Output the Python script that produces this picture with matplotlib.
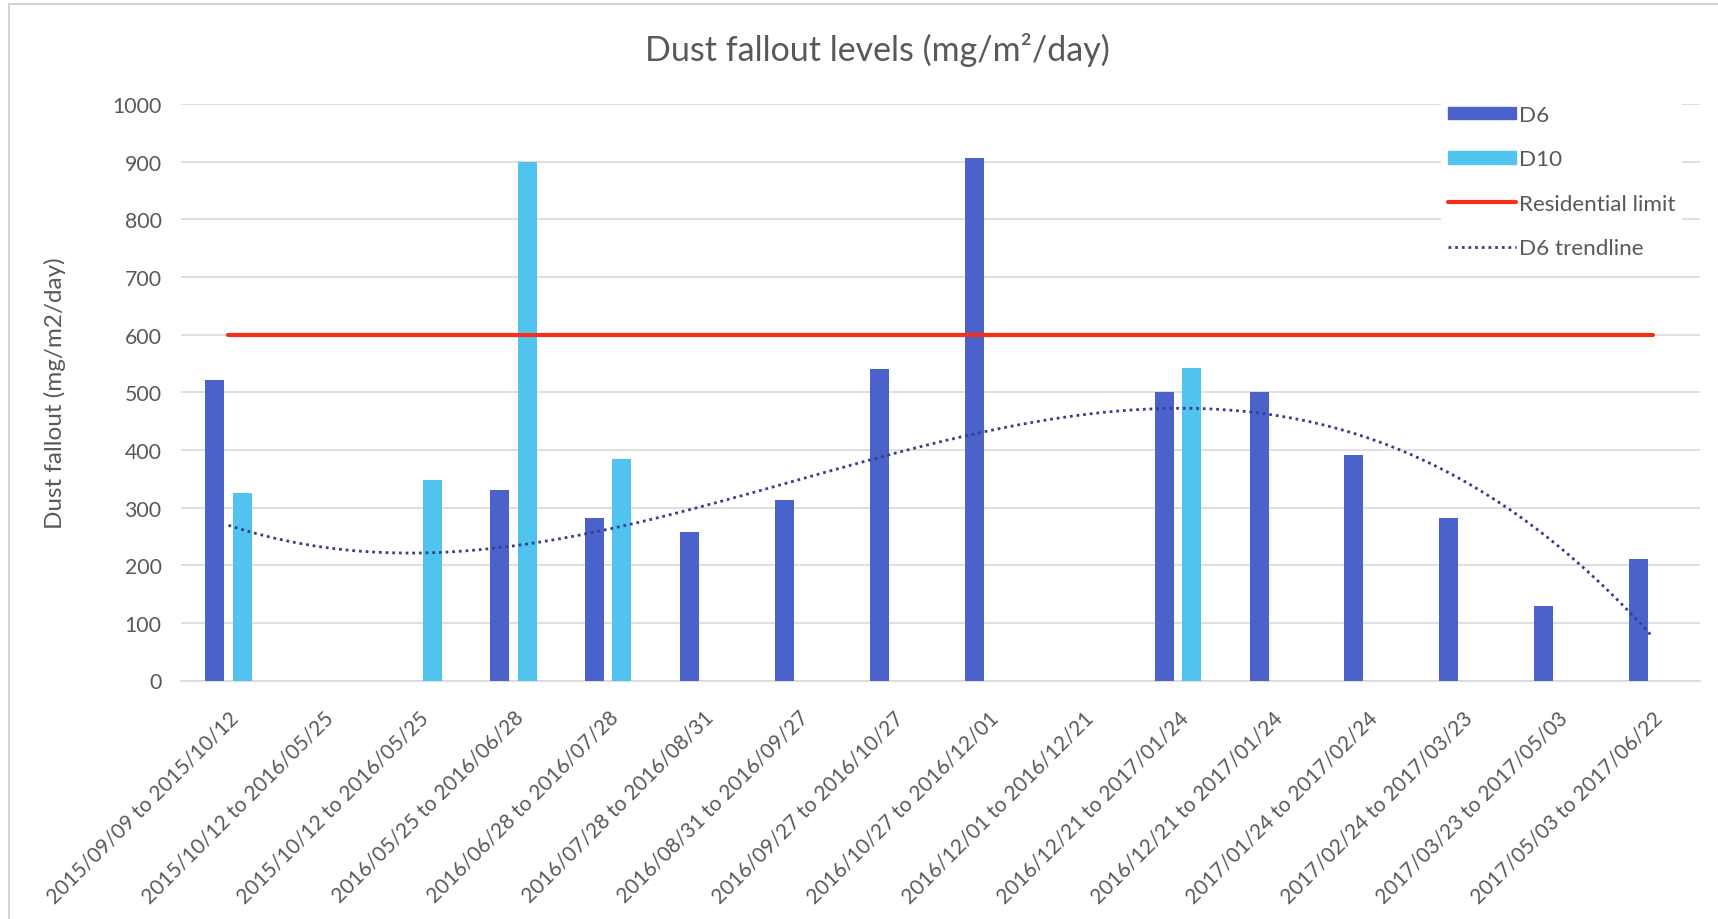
import numpy as np
import matplotlib
matplotlib.use("Agg")
import matplotlib.pyplot as plt
from matplotlib.lines import Line2D
from matplotlib.patches import Patch, Rectangle
import matplotlib.transforms as mtransforms

plt.rcParams["font.family"] = ["Lato", "DejaVu Sans"]

# Sampling periods and dust fallout readings (mg/m2/day); None = no sample
periods = [
    "2015/09/09 to 2015/10/12", "2015/10/12 to 2016/05/25", "2015/10/12 to 2016/05/25",
    "2016/05/25 to 2016/06/28", "2016/06/28 to 2016/07/28", "2016/07/28 to 2016/08/31",
    "2016/08/31 to 2016/09/27", "2016/09/27 to 2016/10/27", "2016/10/27 to 2016/12/01",
    "2016/12/01 to 2016/12/21", "2016/12/21 to 2017/01/24", "2016/12/21 to 2017/01/24",
    "2017/01/24 to 2017/02/24", "2017/02/24 to 2017/03/23", "2017/03/23 to 2017/05/03",
    "2017/05/03 to 2017/06/22",
]
d6 = [522, None, None, 331, 282, 258, 313, 540, 906, None, 500, 500, 392, 282, 129, 211]
d10 = [325, None, 347, 900, 385, None, None, None, None, None, 542, None, None, None, None, None]
residential_limit = 600

yticks = list(range(0, 1001, 100))

c_d6 = "#4A62CA"
c_d10 = "#50C3EE"
c_limit = "#F4301A"
c_trend = "#363E8E"
c_text = "#595959"
c_grid = "#D9D9D9"

fig = plt.figure(figsize=(17.18, 9.2), dpi=100)
ax = fig.add_axes([181 / 1718, 1 - 681.5 / 920, 1519 / 1718, 576.5 / 920])

x = np.arange(1, len(periods) + 1)
bw = 0.2
off = 0.145
d6_vals = np.array([0 if v is None else v for v in d6], dtype=float)
d10_vals = np.array([0 if v is None else v for v in d10], dtype=float)

ax.bar(x - off, d6_vals, bw, color=c_d6, zorder=3)
ax.bar(x + off, d10_vals, bw, color=c_d10, zorder=3)

ax.plot(x, [residential_limit] * len(x), color=c_limit, lw=3, zorder=4,
        solid_capstyle="round")

# cubic polynomial trendline on D6, empty periods counted as zero
coef = np.polyfit(x, d6_vals, 3)
xs = np.linspace(1, len(x), 300)
ax.plot(xs, np.polyval(coef, xs), color=c_trend, lw=2, ls=(0, (1, 1.4)), zorder=5)

ax.set_xlim(0.5, len(x) + 0.5)
ax.set_ylim(0, 1000)
ax.set_yticks(yticks)
ax.set_xticks(x)
ax.set_xticklabels(periods, rotation=45, ha="right", va="top",
                   rotation_mode="anchor")
shift = mtransforms.ScaledTranslation(16 / 100, 0, fig.dpi_scale_trans)
for lbl in ax.get_xticklabels():
    lbl.set_transform(lbl.get_transform() + shift)

ax.tick_params(axis="both", length=0, labelsize=15.3, labelcolor=c_text)
ax.tick_params(axis="x", labelsize=15, pad=19)
ax.tick_params(axis="y", pad=14)
ax.grid(axis="y", color=c_grid, lw=1.2, zorder=0)
for s in ["top", "right", "left"]:
    ax.spines[s].set_visible(False)
ax.spines["bottom"].set_color(c_grid)
ax.spines["bottom"].set_linewidth(1.2)

ax.set_ylabel("Dust fallout (mg/m2/day)", fontsize=17.5, color=c_text)
ax.yaxis.set_label_coords(-0.076, 0.5)

fig.text(877 / 1718, 1 - 50 / 920, "Dust fallout levels (mg/m\u00b2/day)",
         ha="center", va="center", fontsize=24.5, color=c_text)

handles = [
    Patch(color=c_d6),
    Patch(color=c_d10),
    Line2D([], [], color=c_limit, lw=3, solid_capstyle="round"),
    Line2D([], [], color=c_trend, lw=2, ls=(0, (1, 1.4))),
]
labels = ["D6", "D10", "Residential limit", "D6 trendline"]
leg = fig.legend(handles, labels, loc="upper left",
                 bbox_to_anchor=(1430 / 1718, 1 - 88 / 920),
                 frameon=True, facecolor="white", edgecolor="none", framealpha=1,
                 fontsize=16.2, handlelength=3.0, handleheight=0.5,
                 handletextpad=0.15, labelspacing=1.08, borderpad=0.3)
for t in leg.get_texts():
    t.set_color(c_text)

# outer chart frame
fig.patches.append(Rectangle((9 / 1718, -0.1), 1.2, 1 - 5 / 920 + 0.1,
                             transform=fig.transFigure, fill=False,
                             edgecolor="#D4D4D4", lw=1.5))

fig.savefig("out.png", dpi=100)
